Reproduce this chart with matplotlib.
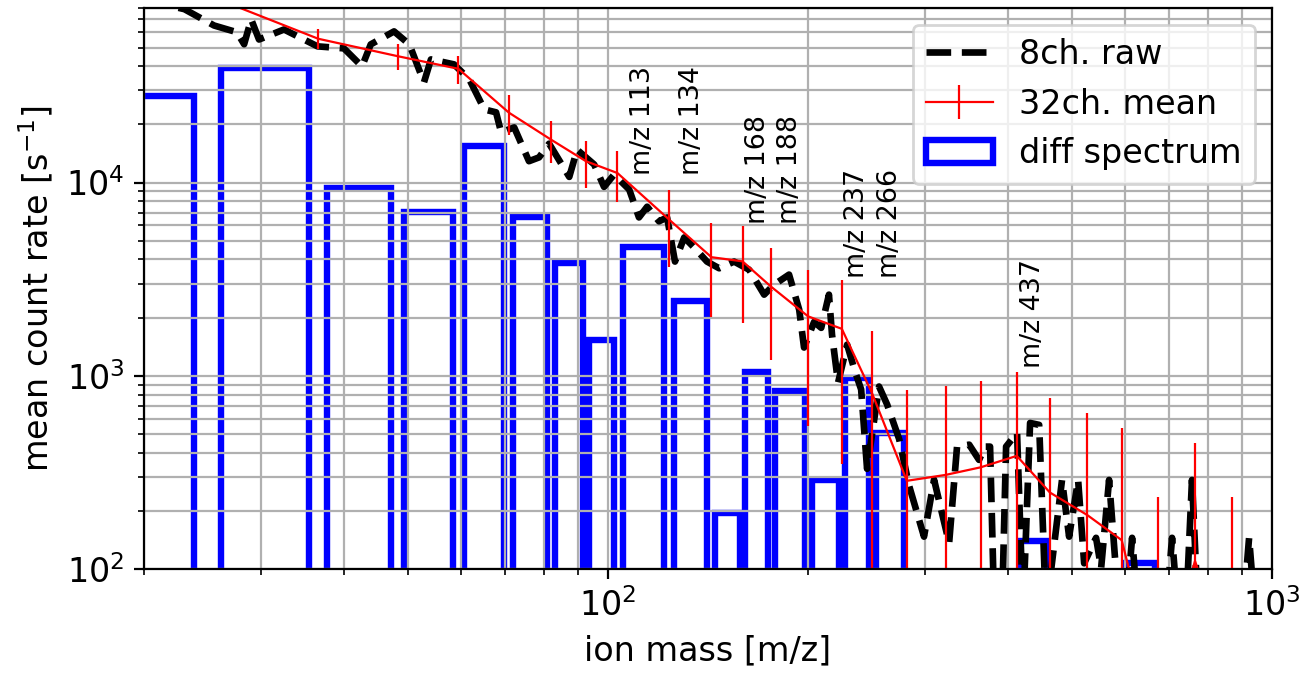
import numpy as np
import matplotlib
matplotlib.use('Agg')
import matplotlib.pyplot as plt

# 8ch raw spectrum
raw_mass = [20.0, 23.0, 25.5, 27.6, 28.3, 29.0, 29.8, 32.5, 36.5, 40.0,
            42.6, 43.9, 47.6, 50.2, 52.8, 54.1, 58.6, 61.8, 65.1, 67.8,
            69.0, 72.2, 76.0, 78.7, 81.5, 87.4, 89.8, 95.3, 98.6, 102.1,
            107.6, 111.3, 114.5, 119.3, 122.7, 126.1, 130.2, 135.7, 140.9, 147.0,
            154.8, 163.1, 171.8, 177.8, 187.3, 194.0, 197.3, 204.3, 209.4, 215.1,
            217.4, 222.0, 229.1, 235.5, 240.5, 245.5, 255.9, 263.2, 274.4, 284.0,
            299.1, 309.7, 326.3, 335.4, 349.8, 362.0, 369.7, 376.1, 386.8, 397.6,
            413.0, 421.7, 432.1, 445.9, 456.7, 482.7, 494.7, 510.4, 521.2, 543.2,
            552.8, 568.3, 588.4, 602.7, 615.5, 628.4, 692.5, 707.0, 721.9, 742.0,
            757.6, 773.6, 904.5, 923.5, 942.8, 1000.0]
raw_rate = [88000, 79000, 65000, 60000, 52000, 70000, 55000, 62000, 50700, 49500,
            39900, 51900, 60600, 51900, 33000, 43400, 40900, 34200, 23900, 23100,
            18200, 19300, 12900, 13500, 15900, 10700, 14800, 12400, 9500, 11000,
            9200, 6600, 7500, 6300, 6600, 3900, 5200, 4500, 3900, 3600,
            3900, 3540, 2630, 2960, 3340, 2200, 1400, 1900, 1770, 2630,
            1630, 920, 1450, 1050, 850, 330, 880, 710, 470, 270,
            147, 290, 136, 430, 440, 367, 430, 430, 10, 430,
            507, 60, 570, 557, 60, 289, 147, 289, 107, 145,
            101, 289, 60, 60, 145, 60, 60, 145, 60, 60,
            289, 60, 60, 145, 60, 60]

# 32ch mean and its error
mean_mass = [12.5, 25.0, 36.6, 48.2, 59.5, 70.9, 82.0, 92.6, 103.3, 123.6,
             143.1, 159.4, 175.8, 200.1, 224.9, 249.7, 281.8, 322.6, 364.1, 412.6,
             462.7, 527.1, 593.7, 674.3, 765.6, 870.8]
mean_rate = [120000, 93000, 55500, 45100, 38800, 23000, 16700, 12900, 11200, 6430,
             4110, 3910, 2900, 2030, 1750, 814, 286, 307, 336, 385,
             249, 190, 141, 25, 110, 30]
mean_err = [12000, 10000, 6500, 6800, 6300, 5400, 4100, 3500, 3300, 2770,
            2100, 2030, 1690, 1480, 1400, 900, 560, 580, 606, 655,
            518, 455, 395, 210, 338, 205]

# diff spectrum, one value per interval of mean_mass (0 = not shown)
diff_rate = [27900, 39000, 9400, 7070, 15400, 6670, 3850, 1540, 4660, 2450,
             195, 1050, 836, 289, 976, 507, 0, 0, 0, 140,
             0, 0, 107, 0, 0]

peak_mz = [113, 134, 168, 188, 237, 266, 437]
peak_y = [1.1e4, 1.1e4, 6.1e3, 6.1e3, 3.2e3, 3.2e3, 1.1e3]

plt.rcParams['font.size'] = 12

fig, ax = plt.subplots(figsize=(6.565, 3.37), dpi=200)
fig.subplots_adjust(left=0.1097, right=0.9688, top=0.988, bottom=0.1558)
ax.set_xscale('log')
ax.set_yscale('log')

ax.plot(raw_mass, raw_rate, 'k--', lw=2.4, label='8ch. raw')
ax.errorbar(mean_mass, mean_rate, yerr=mean_err, color='red', lw=0.8,
            label='32ch. mean')
edges = np.array(mean_mass)
ax.bar((edges[:-1] + edges[1:]) / 2, diff_rate, width=0.8 * np.diff(edges),
       fill=False, edgecolor='blue', lw=2.3, label='diff spectrum')

# peak labels
for m, yv in zip(peak_mz, peak_y):
    ax.text(m, yv, 'm/z %d' % m, rotation=90, ha='center', va='bottom', fontsize=9.7)

ax.set_xlim(20, 1000)
ax.set_ylim(100, 8e4)
ax.grid(True, which='both')
ax.set_xlabel('ion mass [m/z]')
ax.set_ylabel('mean count rate [s$^{-1}$]')
ax.legend(loc='upper right')

fig.savefig('out.png', dpi=200)
